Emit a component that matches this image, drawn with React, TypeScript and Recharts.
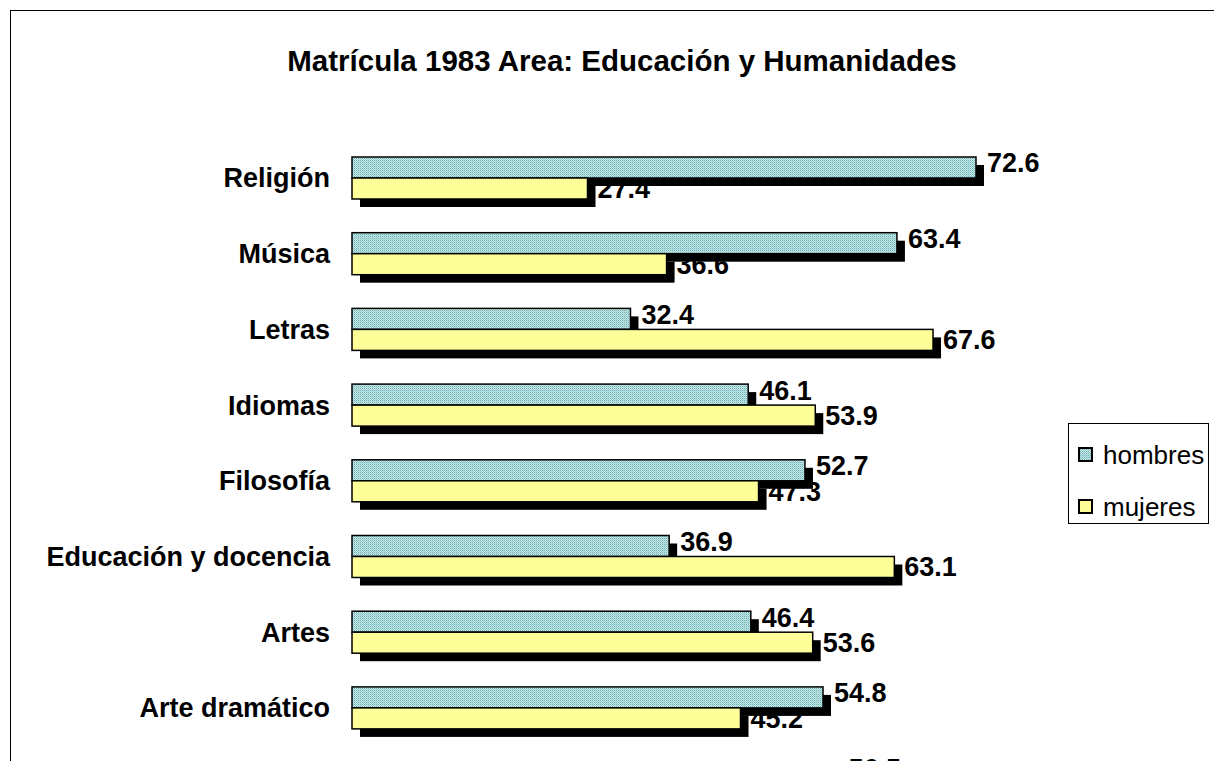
import React from 'react';
import { BarChart, Bar, XAxis, YAxis, Legend, LabelList } from 'recharts';

const categories = ['Religión', 'Música', 'Letras', 'Idiomas', 'Filosofía', 'Educación y docencia', 'Artes', 'Arte dramático', 'Arqueología'];
const hombres = [72.6, 63.4, 32.4, 46.1, 52.7, 36.9, 46.4, 54.8, 56.5];
const mujeres = [27.4, 36.6, 67.6, 53.9, 47.3, 63.1, 53.6, 45.2, 43.5];
const seriesNames = ['hombres', 'mujeres'];

const data = categories.map((name, i) => ({ name, hombres: hombres[i], mujeres: mujeres[i] }));

const FONT = '"Liberation Sans", Arial, sans-serif';
const TEAL = 'url(#dotsTeal)';
const YELLOW = '#ffff99';
const SH = 8;

const HombresShape = (props: any) => {
  const { x, y, width, height, payload } = props;
  const m = payload.mujeres;
  const h = payload.hombres;
  const mEnd = x + (width * m) / h;
  return (
    <g>
      <text x={mEnd + 10} y={y + height + height / 2 + 9.5} fontFamily={FONT} fontWeight="bold" fontSize={27} fill="#000">
        {m.toFixed(1)}
      </text>
      <rect x={x + SH} y={y + SH} width={width} height={height} fill="#000" />
      <rect x={x} y={y} width={width} height={height} fill={TEAL} stroke="#000" strokeWidth={1.5} />
    </g>
  );
};

const MujeresShape = (props: any) => {
  const { x, y, width, height } = props;
  return (
    <g>
      <rect x={x + SH} y={y + SH} width={width} height={height} fill="#000" />
      <rect x={x} y={y} width={width} height={height} fill={YELLOW} stroke="#000" strokeWidth={1.5} />
    </g>
  );
};

const HombresLabel = (props: any) => {
  const { x, y, width, height, value } = props;
  return (
    <text x={x + width + 11} y={y + height / 2 + 5} fontFamily={FONT} fontWeight="bold" fontSize={27} fill="#000">
      {Number(value).toFixed(1)}
    </text>
  );
};

const renderLegend = (props: any) => {
  const { payload } = props;
  return (
    <div style={{ position: 'relative', width: 141, height: 101, border: '1px solid #000', boxSizing: 'border-box', background: '#fff', fontFamily: FONT }}>
      {(payload || []).map((entry: any, i: number) => (
        <div key={i} style={{ position: 'absolute', left: 9, top: 16 + i * 52, height: 30, display: 'flex', alignItems: 'center' }}>
          <svg width={16} height={16} style={{ display: 'block' }}>
            <rect x={1} y={1} width={13} height={13} fill={entry.color} stroke="#000" strokeWidth={2} />
          </svg>
          <span style={{ marginLeft: 9, fontSize: 26, lineHeight: '30px', color: '#000' }}>{entry.value}</span>
        </div>
      ))}
    </div>
  );
};

export default function App() {
  return (
    <div style={{ position: 'fixed', left: 0, top: 0, width: 1214, height: 761, overflow: 'hidden', background: '#fff' }}>
      <svg width={0} height={0} style={{ position: 'absolute' }}>
        <defs>
          <pattern id="dotsTeal" patternUnits="userSpaceOnUse" width={2} height={2}>
            <rect x={0} y={0} width={2} height={2} fill="#c4e6e6" />
            <rect x={0} y={0} width={1} height={1} fill="#6fb3b3" />
            <rect x={1} y={1} width={1} height={1} fill="#9ccfcf" />
          </pattern>
        </defs>
      </svg>
      <div style={{ position: 'absolute', left: 10, top: 10, width: 1400, height: 1000, border: '1px solid #000' }} />
      <div style={{ position: 'absolute', left: 0, top: 46, width: 1244, textAlign: 'center', fontFamily: FONT, fontWeight: 'bold', fontSize: 29.5, lineHeight: '30px', color: '#000' }}>
        Matrícula 1983 Area: Educación y Humanidades
      </div>
      <div style={{ position: 'absolute', left: 0, top: 0 }}>
        <BarChart
          width={1300}
          height={829.3}
          data={data}
          layout="vertical"
          margin={{ top: 140, right: 260.4, bottom: 8, left: 12 }}
          barGap={0}
          barSize={21}
        >
          <XAxis type="number" domain={[0, 80]} hide />
          <YAxis
            type="category"
            dataKey="name"
            width={340}
            tickLine={false}
            axisLine={false}
            tickSize={0}
            tickMargin={22}
            interval={0}
            tick={{ fontFamily: FONT, fontWeight: 'bold', fontSize: 27, fill: '#000' }}
          />
          <Legend
            layout="horizontal"
            verticalAlign="middle"
            align="center"
            content={renderLegend}
            wrapperStyle={{ position: 'absolute', left: 1068, top: 423, width: 141, height: 101, margin: 0 }}
          />
          <Bar dataKey="hombres" name={seriesNames[0]} fill={TEAL} shape={HombresShape} isAnimationActive={false}>
            <LabelList dataKey="hombres" content={HombresLabel} />
          </Bar>
          <Bar dataKey="mujeres" name={seriesNames[1]} fill={YELLOW} shape={MujeresShape} isAnimationActive={false} />
        </BarChart>
      </div>
    </div>
  );
}
